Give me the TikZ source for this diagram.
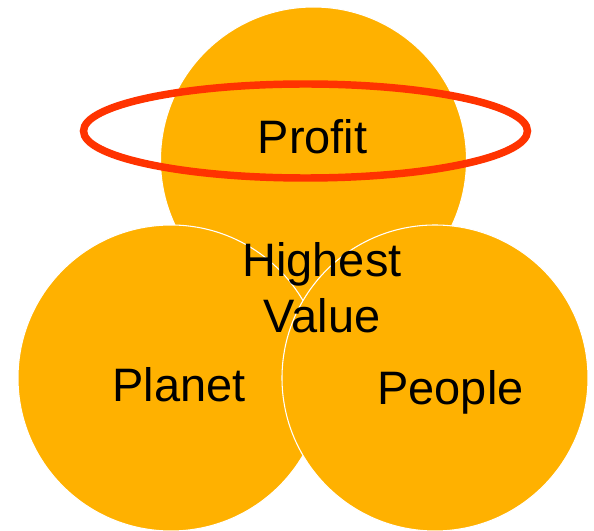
\documentclass[tikz,border=0pt]{standalone}
\usepackage{fontspec}
\setmainfont{Liberation Sans}
\definecolor{ringfill}{HTML}{FFB100}
\definecolor{halo}{HTML}{FF3300}
\tikzset{
    ring/.style={circle, fill=ringfill, draw=white, line width=0.8pt, minimum size=229.5pt, inner sep=0pt},
    word/.style={font=\fontsize{35.2}{42}\selectfont, anchor=base, inner sep=0pt},
}

\begin{document}
\begin{tikzpicture}[x=0.75pt, y=-0.75pt] % three overlapping circles
	\useasboundingbox (0,0) rectangle (594,531);
	\node[ring] (profit) at (313.5,160) {};
	\node[ring] (planet) at (171,378) {};
	\node[ring] (people) at (435,378) {};
	% ring round the top circle
	\draw[halo, line width=5.6pt] (305.5,131) ellipse [x radius=222, y radius=47];
	\node[word] (profittext) at (312.5,154) {Profit};
	\node[word] (highest) at (322,277) {Highest};
	\node[word] (value) at (322,333) {Value};
	\node[word] (planettext) at (179,402) {Planet};
	\node[word] (peopletext) at (450.5,405) {People};
\end{tikzpicture}
\end{document}
